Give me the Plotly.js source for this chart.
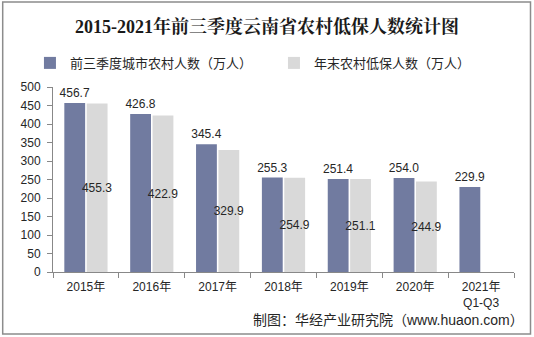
<!DOCTYPE html>
<html>
<head>
<meta charset="utf-8">
<script src="https://cdn.plot.ly/plotly-3.0.1.min.js"></script>
<style>html,body{margin:0;padding:0;background:#fff;}#chart{width:534px;height:337px;}</style>
</head>
<body>
<div id="chart"></div>
<script>
var categories = ["2015年", "2016年", "2017年", "2018年", "2019年", "2020年", "2021年<br>Q1-Q3"];
var seriesNames = ["前三季度城市农村人数（万人）", "年末农村低保人数（万人）"];
var q1q3Values = [456.7, 426.8, 345.4, 255.3, 251.4, 254.0, 229.9];
var yearEndValues = [455.3, 422.9, 329.9, 254.9, 251.1, 244.9, null];
var yTicks = [0, 50, 100, 150, 200, 250, 300, 350, 400, 450, 500];

var FONT = "Liberation Sans, Arial, Noto Sans CJK SC, sans-serif";
var textColor = "#262626";

function fmt(v){ return v === null ? "" : v.toFixed(1); }

var traces = [
  {
    type: "bar", name: seriesNames[0], x: categories, y: q1q3Values,
    marker: {color: "#717ba0"},
    text: q1q3Values.map(fmt), textposition: "outside", cliponaxis: false,
    textangle: 0, constraintext: "none",
    textfont: {family: FONT, size: 12, color: textColor},
    hoverinfo: "none"
  },
  {
    type: "bar", name: seriesNames[1], x: categories, y: yearEndValues,
    marker: {color: "#d9d9d9"},
    text: yearEndValues.map(fmt), textposition: "inside", insidetextanchor: "middle",
    textangle: 0, constraintext: "none",
    textfont: {family: FONT, size: 12, color: textColor},
    hoverinfo: "none"
  }
];

var layout = {
  width: 534, height: 337,
  margin: {l: 53, r: 20, t: 87, b: 65},
  paper_bgcolor: "#ffffff", plot_bgcolor: "#ffffff",
  font: {family: FONT, size: 12, color: textColor},
  title: {
    text: "<b>2015-2021年前三季度云南省农村低保人数统计图</b>",
    font: {family: "Liberation Serif, Noto Serif CJK SC, Noto Sans CJK SC, serif", size: 18, color: "#1a1a1a"},
    x: 0.5, xref: "container", xanchor: "center",
    y: 1 - 27/337, yref: "container", yanchor: "middle"
  },
  barmode: "group", bargap: 0.32, bargroupgap: 0.07,
  showlegend: true,
  legend: {
    orientation: "h", x: -0.05, xanchor: "left", y: 1.13, yanchor: "middle",
    font: {family: "Noto Sans CJK SC, sans-serif", size: 13, color: textColor},
    entrywidth: 199, itemwidth: 30, traceorder: "normal"
  },
  xaxis: {
    type: "category", showline: true, linecolor: "#888888", linewidth: 1,
    ticks: "outside", tickson: "boundaries", ticklen: 5, tickcolor: "#888888",
    ticklabelstandoff: 4,
    showgrid: false, zeroline: false, fixedrange: true,
    tickfont: {family: FONT, size: 12, color: textColor}
  },
  yaxis: {
    range: [0, 500], tickvals: yTicks, showline: true, linecolor: "#888888", linewidth: 1,
    ticks: "outside", ticklen: 5, tickcolor: "#888888",
    ticklabelstandoff: 4,
    showgrid: false, zeroline: false, fixedrange: true,
    tickfont: {family: FONT, size: 12, color: textColor}
  },
  annotations: [
    {
      text: "制图：华经产业研究院（www.huaon.com）",
      xref: "paper", yref: "paper", x: 1.026, y: -0.259, xanchor: "right", yanchor: "middle",
      showarrow: false, font: {family: FONT, size: 14, color: textColor}
    }
  ],
  shapes: [
    {
      type: "rect", xref: "paper", yref: "paper",
      x0: (2.7 - 53) / 461, x1: (530.5 - 53) / 461,
      y0: (272 - 334) / 185, y1: (272 - 2) / 185,
      line: {color: "#8c8c8c", width: 1.5}, fillcolor: "rgba(0,0,0,0)", layer: "below"
    }
  ]
};

Plotly.newPlot("chart", traces, layout, {displayModeBar: false, staticPlot: true});
</script>
</body>
</html>
